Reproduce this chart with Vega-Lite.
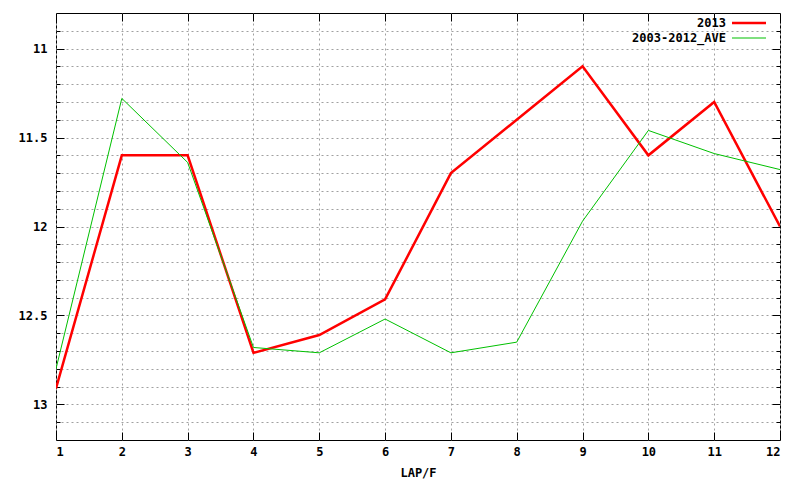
{
  "$schema": "https://vega.github.io/schema/vega-lite/v6.json",
  "width": 724,
  "height": 427,
  "autosize": {"type": "none"},
  "padding": {"left": 56, "top": 13, "right": 20, "bottom": 40},
  "background": "white",
  "config": {
    "view": {"stroke": "black", "strokeWidth": 1},
    "font": "DejaVu Sans Mono"
  },
  "data": {
    "values": [
      {"lap": 1, "series": "2013", "time": 12.91},
      {"lap": 2, "series": "2013", "time": 11.6},
      {"lap": 3, "series": "2013", "time": 11.6},
      {"lap": 4, "series": "2013", "time": 12.71},
      {"lap": 5, "series": "2013", "time": 12.61},
      {"lap": 6, "series": "2013", "time": 12.41},
      {"lap": 7, "series": "2013", "time": 11.7},
      {"lap": 8, "series": "2013", "time": 11.4},
      {"lap": 9, "series": "2013", "time": 11.1},
      {"lap": 10, "series": "2013", "time": 11.6},
      {"lap": 11, "series": "2013", "time": 11.3},
      {"lap": 12, "series": "2013", "time": 12.0},
      {"lap": 1, "series": "2003-2012_AVE", "time": 12.8},
      {"lap": 2, "series": "2003-2012_AVE", "time": 11.28},
      {"lap": 3, "series": "2003-2012_AVE", "time": 11.64},
      {"lap": 4, "series": "2003-2012_AVE", "time": 12.68},
      {"lap": 5, "series": "2003-2012_AVE", "time": 12.71},
      {"lap": 6, "series": "2003-2012_AVE", "time": 12.52},
      {"lap": 7, "series": "2003-2012_AVE", "time": 12.71},
      {"lap": 8, "series": "2003-2012_AVE", "time": 12.65},
      {"lap": 9, "series": "2003-2012_AVE", "time": 11.97},
      {"lap": 10, "series": "2003-2012_AVE", "time": 11.46},
      {"lap": 11, "series": "2003-2012_AVE", "time": 11.59},
      {"lap": 12, "series": "2003-2012_AVE", "time": 11.68}
    ]
  },
  "resolve": {"axis": {"x": "independent", "y": "independent"}},
  "layer": [
    {
      "mark": {"type": "line", "clip": true},
      "encoding": {
        "x": {
          "field": "lap",
          "type": "quantitative",
          "scale": {"domain": [1, 12], "nice": false, "zero": false},
          "axis": {
            "title": "LAP/F",
            "values": [1, 2, 3, 4, 5, 6, 7, 8, 9, 10, 11, 12],
            "format": "d",
            "grid": true,
            "gridColor": "#a0a0a0",
            "gridDash": [2, 3],
            "gridOpacity": 1,
            "domain": false,
            "ticks": true,
            "tickColor": "black",
            "tickSize": -8,
            "labelPadding": 14,
            "labelFont": "DejaVu Sans Mono",
            "labelFontSize": 12,
            "labelFontWeight": "bold",
            "labelColor": "black",
            "titleFont": "DejaVu Sans Mono",
            "titleFontSize": 12,
            "titleFontWeight": "bold",
            "titleColor": "black",
            "titlePadding": 10
          }
        },
        "y": {
          "field": "time",
          "type": "quantitative",
          "scale": {"domain": [10.8, 13.2], "reverse": true, "nice": false, "zero": false},
          "axis": {
            "title": null,
            "values": [10.9, 11.0, 11.1, 11.2, 11.3, 11.4, 11.5, 11.6, 11.7, 11.8, 11.9, 12.0, 12.1, 12.2, 12.3, 12.4, 12.5, 12.6, 12.7, 12.8, 12.9, 13.0, 13.1],
            "labelExpr": "abs(datum.value*2 - round(datum.value*2)) < 0.001 ? format(datum.value, '~g') : ''",
            "grid": true,
            "gridColor": "#a0a0a0",
            "gridDash": [2, 3],
            "gridOpacity": 1,
            "domain": false,
            "ticks": true,
            "tickColor": "black",
            "tickSize": {"condition": {"test": "abs(datum.value*2 - round(datum.value*2)) < 0.001", "value": -8}, "value": -4},
            "labelPadding": 17,
            "labelFont": "DejaVu Sans Mono",
            "labelFontSize": 12,
            "labelFontWeight": "bold",
            "labelColor": "black"
          }
        },
        "color": {
          "field": "series",
          "type": "nominal",
          "scale": {"domain": ["2013", "2003-2012_AVE"], "range": ["#ff0000", "#00c000"]},
          "legend": {
            "title": null,
            "orient": "top-right",
            "offset": 0,
            "symbolType": "M-2,0H2M3,0",
            "symbolSize": 289,
            "labelFont": "DejaVu Sans Mono",
            "labelFontSize": 12,
            "labelFontWeight": "bold",
            "labelColor": "black",
            "labelAlign": "right",
            "labelOffset": -33,
            "rowPadding": 0
          }
        },
        "strokeWidth": {
          "field": "series",
          "type": "nominal",
          "scale": {"domain": ["2013", "2003-2012_AVE"], "range": [2.5, 1]},
          "legend": null
        }
      }
    },
    {
      "mark": {"type": "line", "opacity": 0},
      "encoding": {
        "x": {
          "field": "lap",
          "type": "quantitative",
          "axis": {
            "orient": "top",
            "title": null,
            "values": [1, 2, 3, 4, 5, 6, 7, 8, 9, 10, 11, 12],
            "labels": false,
            "grid": false,
            "domain": false,
            "ticks": true,
            "tickColor": "black",
            "tickSize": -8
          }
        },
        "y": {
          "field": "time",
          "type": "quantitative",
          "axis": {
            "orient": "right",
            "title": null,
            "values": [10.9, 11.0, 11.1, 11.2, 11.3, 11.4, 11.5, 11.6, 11.7, 11.8, 11.9, 12.0, 12.1, 12.2, 12.3, 12.4, 12.5, 12.6, 12.7, 12.8, 12.9, 13.0, 13.1],
            "labels": false,
            "grid": false,
            "domain": false,
            "ticks": true,
            "tickColor": "black",
            "tickSize": {"condition": {"test": "abs(datum.value*2 - round(datum.value*2)) < 0.001", "value": -8}, "value": -4}
          }
        },
        "detail": {"field": "series", "type": "nominal"}
      }
    }
  ]
}
